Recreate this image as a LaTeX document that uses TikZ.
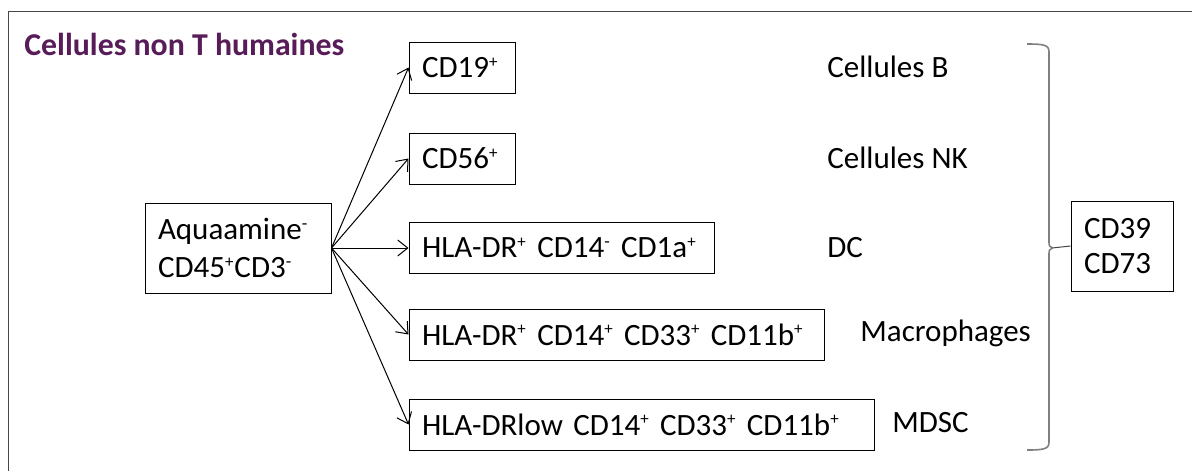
\documentclass[tikz,border=0pt]{standalone}
\usepackage{fontspec}
\setmainfont{Carlito}
\usepackage{tikz}
\usepackage{xcolor}
\definecolor{titlepurple}{RGB}{88,28,88}
\definecolor{bracegray}{RGB}{128,128,128}
\definecolor{framegray}{RGB}{70,70,70}
\usetikzlibrary{arrows.meta}
\newcommand{\psup}{\textsuperscript{\fontsize{8.5}{8.5}\selectfont+}}
\newcommand{\msup}{\textsuperscript{\fontsize{9}{9}\selectfont-}}

\tikzset{
  markerbox/.style={draw, line width=0.5pt, inner xsep=6.5pt, inner ysep=0pt,
    minimum height=25.5pt, align=left},
  celltype/.style={anchor=west, inner sep=0pt},
  gate/.style={-{Straight Barb[length=5pt,width=8pt]}, line width=0.5pt}
}

\begin{document}
\begin{tikzpicture}[x=0.5pt, y=-0.5pt, font=\fontsize{15.5}{19}\selectfont]
    \useasboundingbox (0,0) rectangle (1192,471);
    % cadre
    \draw[framegray, line width=0.5pt] (8,471) -- (8,11) -- (1192,11);
    \node[anchor=west, inner sep=0pt, text=titlepurple, font=\fontsize{15.9}{19}\selectfont\bfseries] (title) at (24,44) {Cellules non T humaines};

    \node[markerbox, text width=80pt, minimum height=45pt] (src) at (238,248) {Aquaamine\msup\\CD45\psup CD3\msup};

    \node[markerbox, text width=40pt] (cdb) at (462,67.5) {CD19\psup};
    \node[markerbox, text width=40pt] (cdnk) at (462,158.5) {CD56\psup};
    \node[markerbox, text width=139.5pt] (dc) at (561.5,248) {\mbox{HLA-DR\psup{} CD14\msup{} CD1a\psup}};
    \node[markerbox, text width=194.5pt] (macro) at (616.5,334.5) {\mbox{HLA-DR\psup{} CD14\psup{} CD33\psup{} CD11b\psup}};
    \node[markerbox, text width=219.5pt] (mdsc) at (641.5,424.5) {\mbox{HLA-DRlow CD14\psup{} CD33\psup{} CD11b\psup}};

    \node[celltype] (lb) at (827,67) {Cellules B};
    \node[celltype] (lnk) at (827,158) {Cellules NK};
    \node[celltype] (ldc) at (827,248) {DC};
    \node[celltype] (lmacro) at (860,333) {Macrophages};
    \node[celltype] (lmdsc) at (892,423) {MDSC};

    \node[markerbox, text width=38pt, minimum height=45pt, font=\fontsize{15.5}{17.5}\selectfont] (ecto) at (1122,246) {CD39\\CD73};

    \foreach \t in {cdb,cdnk,dc,macro,mdsc}
      \draw[gate] (src.east) -- (\t.west);

    % accolade
    \coordinate (bracetip) at (1052,248);
    \draw[bracegray, line width=0.8pt] (1027,44) .. controls (1044,44) and (1049,45) .. (1049,52)
      -- (1049,241) .. controls (1049,246) .. (bracetip)
      .. controls (1049,250) .. (1049,255) -- (1049,442)
      .. controls (1049,449) and (1044,450) .. (1027,450);
    \draw[framegray, line width=0.5pt] (bracetip) -- (ecto.west);
  \end{tikzpicture}
\end{document}
